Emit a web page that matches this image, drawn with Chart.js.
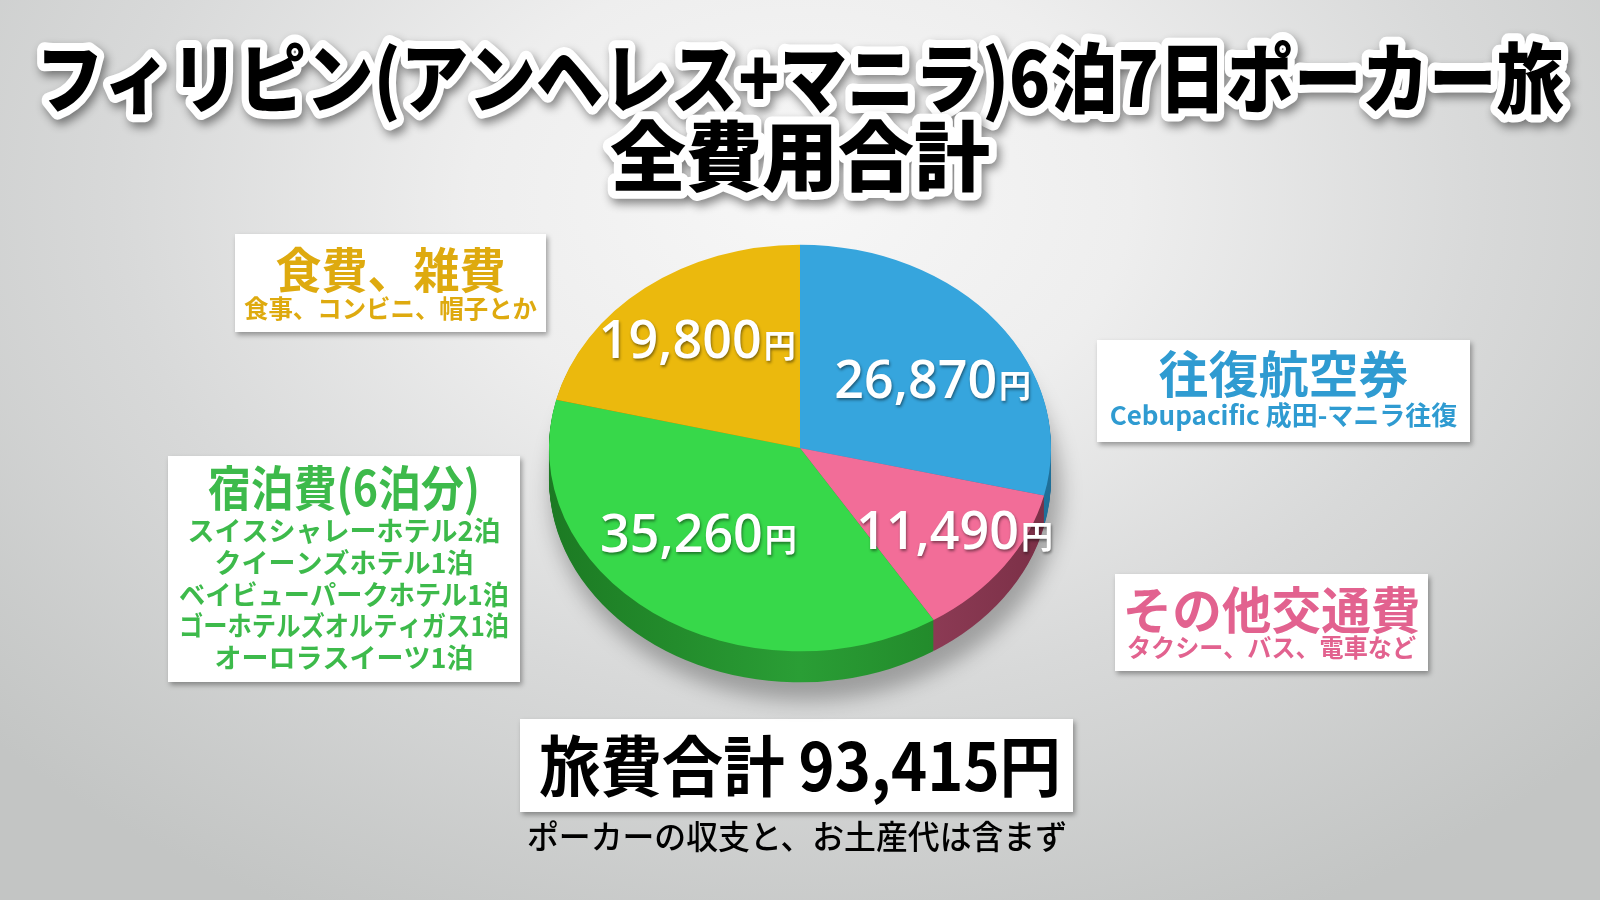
<!DOCTYPE html>
<html lang="ja">
<head>
<meta charset="utf-8">
<script src="https://cdn.jsdelivr.net/npm/chart.js@4.4.1/dist/chart.umd.min.js"></script>
<style>
  html, body { margin: 0; padding: 0; width: 1600px; height: 900px; overflow: hidden; }
  body {
    background: radial-gradient(ellipse 1100px 800px at 50% 22%, #f7f7f7 0%, #eeeeee 30%, #d8d9d9 62%, #c3c5c4 100%);
  }
  canvas { display: block; }
</style>
</head>
<body>
<canvas id="c" width="1600" height="900"></canvas>
<script>
// ---- data ----
const categories = ['往復航空券', 'その他交通費', '宿泊費', '食費、雑費'];
const values = [26870, 11490, 35260, 19800];
const sliceColors = ['#36a5dd', '#f26d98', '#37d84a', '#ebb90d'];
const sideColors = [['#1f6f98', '#2a86b5'], ['#7a2f46', '#a04764'], ['#1c7a23', '#2a9e35'], ['#8c6c05', '#b08a08']];
const yenUnit = '円';
const titleLines = ['フィリピン(アンヘレス+マニラ)6泊7日ポーカー旅', '全費用合計'];
const totalText = '旅費合計 93,415円';
const totalNote = 'ポーカーの収支と、お土産代は含まず';
const boxTitles = ['往復航空券', 'その他交通費', '宿泊費(6泊分)', '食費、雑費'];
const boxLines = [
  ['Cebupacific 成田-マニラ往復'],
  ['タクシー、バス、電車など'],
  ['スイスシャレーホテル2泊', 'クイーンズホテル1泊', 'ベイビューパークホテル1泊', 'ゴーホテルズオルティガス1泊', 'オーロラスイーツ1泊'],
  ['食事、コンビニ、帽子とか']
];
const boxTextColors = ['#2f9bd1', '#e2628f', '#3dba4b', '#deaa0f'];

// ---- layout / style (not data) ----
const K = 0.81;          // vertical squash of the pie
const DEPTH = 31;        // side thickness in px
const labelRadius = [0.625, 0.74, 0.585, 0.67];
const labelShiftDeg = [6, -2, 8, 0.5];
const boxRects = [
  {x: 1097, y: 340, w: 373, h: 102, ty: 374, ts: 50, ly: 415, ls: 26, lh: 30, tw: 250, lw: 356},
  {x: 1115, y: 574, w: 313, h: 97,  ty: 610, ts: 50, ly: 647, ls: 25, lh: 30, tw: 298, lw: 289},
  {x: 168,  y: 456, w: 352, h: 226, ty: 488, ts: 48, ly: 531, ls: 27, lh: 31.7, tw: 272, lw: 330},
  {x: 235,  y: 234, w: 311, h: 98,  ty: 270, ts: 48, ly: 308, ls: 25, lh: 30, tw: 230, lw: 293}
];
const CJK = "'Noto Sans CJK JP', 'Noto Sans CJK SC', sans-serif";

function centerOf(chart) {
  const el = chart.getDatasetMeta(0).data[0];
  return {x: el.x, y: el.y, r: el.outerRadius};
}

const pie3d = {
  id: 'pie3d',
  beforeDatasetsDraw(chart) {
    const ctx = chart.ctx;
    const c = centerOf(chart);
    // soft floor shadow
    ctx.save();
    ctx.filter = 'blur(10px)';
    ctx.fillStyle = 'rgba(0,0,0,0.28)';
    ctx.beginPath();
    ctx.ellipse(c.x + 6, c.y + DEPTH + 12, c.r + 4, c.r * K + 6, 0, 0, Math.PI * 2);
    ctx.fill();
    ctx.restore();

    ctx.save();
    ctx.translate(c.x, c.y);
    ctx.scale(1, K);
    ctx.translate(-c.x, -c.y);
    const meta = chart.getDatasetMeta(0);
    meta.data.forEach((el, i) => {
      const g = ctx.createLinearGradient(c.x - c.r, 0, c.x + c.r, 0);
      g.addColorStop(0, sideColors[i][0]);
      g.addColorStop(0.5, sideColors[i][1]);
      g.addColorStop(1, sideColors[i][0]);
      ctx.fillStyle = g;
      for (let d = DEPTH; d >= 1; d--) {
        const yy = el.y + d / K;
        ctx.beginPath();
        ctx.moveTo(el.x, yy);
        ctx.arc(el.x, yy, el.outerRadius, el.startAngle, el.endAngle);
        ctx.closePath();
        ctx.fill();
      }
    });
    // keep transform for the top faces drawn by Chart.js
  },
  afterDatasetsDraw(chart) {
    chart.ctx.restore();
  },
  afterDraw(chart) {
    const ctx = chart.ctx;
    const c = centerOf(chart);
    const meta = chart.getDatasetMeta(0);
    // value labels
    meta.data.forEach((el, i) => {
      const mid = (el.startAngle + el.endAngle) / 2 + labelShiftDeg[i] * Math.PI / 180;
      const rr = el.outerRadius * labelRadius[i];
      const px = c.x + Math.cos(mid) * rr;
      const py = c.y + Math.sin(mid) * rr * K;
      const num = values[i].toLocaleString('en-US');
      ctx.save();
      ctx.textBaseline = 'alphabetic';
      ctx.fillStyle = '#ffffff';
      ctx.shadowColor = 'rgba(0,0,0,0.45)';
      ctx.shadowBlur = 3;
      ctx.shadowOffsetX = 1;
      ctx.shadowOffsetY = 2;
      const fNum = "600 52px 'Open Sans', 'Noto Sans', sans-serif";
      const fYen = "700 32px " + CJK;
      ctx.font = fNum;
      const wn = ctx.measureText(num).width;
      ctx.font = fYen;
      const wy = ctx.measureText(yenUnit).width;
      const x0 = px - (wn + wy + 2) / 2;
      const base = py + 18;
      ctx.font = fNum;
      ctx.textAlign = 'left';
      ctx.fillText(num, x0, base);
      ctx.font = fYen;
      ctx.fillText(yenUnit, x0 + wn + 2, base - 1);
      ctx.restore();
    });
  },
  beforeDraw(chart) {
    const ctx = chart.ctx;
    // title
    ctx.save();
    ctx.textAlign = 'center';
    ctx.textBaseline = 'middle';
    ctx.lineJoin = 'round';
    const tys = [78, 156];
    const tmax = [1528, 400];
    titleLines.forEach((t, i) => {
      ctx.font = "900 76px " + CJK;
      ctx.save();
      ctx.shadowColor = 'rgba(0,0,0,0.45)';
      ctx.shadowBlur = 10;
      ctx.shadowOffsetX = 3;
      ctx.shadowOffsetY = 5;
      ctx.strokeStyle = '#ffffff';
      ctx.lineWidth = 16;
      ctx.strokeText(t, 800, tys[i], tmax[i]);
      ctx.restore();
      ctx.fillStyle = '#000000';
      ctx.fillText(t, 800, tys[i], tmax[i]);
    });
    ctx.restore();

    // category boxes
    boxRects.forEach((b, i) => {
      ctx.save();
      ctx.shadowColor = 'rgba(0,0,0,0.35)';
      ctx.shadowBlur = 5;
      ctx.shadowOffsetX = 2;
      ctx.shadowOffsetY = 3;
      ctx.fillStyle = '#ffffff';
      ctx.fillRect(b.x, b.y, b.w, b.h);
      ctx.restore();
      ctx.save();
      ctx.fillStyle = boxTextColors[i];
      ctx.textAlign = 'center';
      ctx.textBaseline = 'middle';
      const cx = b.x + b.w / 2;
      ctx.font = "700 " + b.ts + "px " + CJK;
      ctx.fillText(boxTitles[i], cx, b.ty, b.tw);
      ctx.font = "700 " + b.ls + "px " + CJK;
      boxLines[i].forEach((ln, j) => {
        ctx.fillText(ln, cx, b.ly + j * b.lh, b.lw);
      });
      ctx.restore();
    });

    // total box
    ctx.save();
    ctx.shadowColor = 'rgba(0,0,0,0.35)';
    ctx.shadowBlur = 5;
    ctx.shadowOffsetX = 2;
    ctx.shadowOffsetY = 3;
    ctx.fillStyle = '#ffffff';
    ctx.fillRect(520, 719, 553, 93);
    ctx.restore();
    ctx.save();
    ctx.fillStyle = '#000000';
    ctx.textAlign = 'center';
    ctx.textBaseline = 'middle';
    ctx.font = "700 66px " + CJK;
    ctx.fillText(totalText, 800, 766, 522);
    ctx.font = "500 33px " + CJK;
    ctx.fillText(totalNote, 797, 836, 540);
    ctx.restore();
  }
};

new Chart(document.getElementById('c'), {
  type: 'pie',
  data: {
    labels: categories,
    datasets: [{
      data: values,
      backgroundColor: sliceColors,
      borderWidth: 0,
      hoverOffset: 0
    }]
  },
  options: {
    responsive: false,
    animation: false,
    events: [],
    layout: { padding: { left: 549, right: 549, top: 197, bottom: 201 } },
    plugins: {
      legend: { display: false },
      tooltip: { enabled: false },
      title: { display: false }
    }
  },
  plugins: [pie3d]
});
</script>
</body>
</html>
